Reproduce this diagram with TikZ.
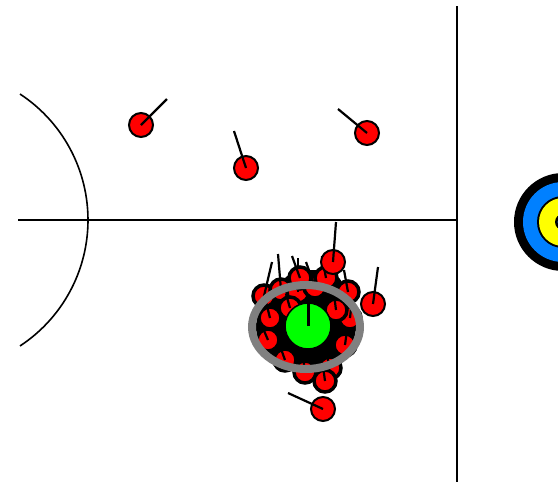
\documentclass[tikz,border=0pt]{standalone}
\usetikzlibrary{positioning}
\definecolor{hitred}{RGB}{255,0,0}
\definecolor{ringgray}{RGB}{128,128,128}
\definecolor{spotgreen}{RGB}{0,255,0}
\definecolor{targetblue}{RGB}{0,128,255}
\definecolor{targetyellow}{RGB}{255,255,0}
\tikzset{
  shot/.style={circle,draw=black,fill=hitred,line width=2pt,minimum size=24pt,inner sep=0pt},
  packedshot/.style={shot,line width=3.5pt,minimum size=22pt},
  tail/.style={black,line width=2.2pt},
  field/.style={black,line width=2pt}
}

\begin{document}
\begin{tikzpicture}[x=1pt,y=-1pt]
        \useasboundingbox (0,0) rectangle (558,482);
        \clip (0,0) rectangle (558,482);
        \draw[field] (18,220)--(458,220);
        \draw[field,line width=2.5pt] (457,6)--(457,482);
        \draw[field,line width=1.6pt] (-62.7,220) ++(-56.7:150.7)
          arc[start angle=-56.7,end angle=56.7,radius=150.7];
        \fill[black] (563,222) circle[radius=49];
        \fill[targetblue] (563,222) circle[radius=40];
        \fill[black] (563,222) circle[radius=26];
        \fill[targetyellow] (563,222) circle[radius=24];
        \fill[black] (563,222) circle[radius=8];
        \fill[targetblue] (563,222) circle[radius=5.5];
        \fill[black] (306,327) ellipse[x radius=50,y radius=40];
        \fill[black] (312,284) ellipse[x radius=30,y radius=14];
        \foreach \n/\x/\y/\tx/\ty in {
          1/264/296/272/262,
          2/281/290/278/254,
          3/298/292/298/258,
          4/315/287/306/262,
          5/348/292/344/270,
          6/350/318/352/300,
          7/345/345/347/330,
          8/330/368/326/352,
          9/305/372/303/356,
          10/285/360/280/346,
          11/268/340/262/326,
          12/270/318/266/302,
          13/325/381/323/366,
          14/300/278/292/256,
          15/326/278/322/256,
          16/290/308/286/294,
          17/336/310/334/294}{
          \node[packedshot] (c\n) at (\x,\y) {};
          \coordinate (ct\n) at (\tx,\ty);
          \draw[tail] (c\n.center) -- (ct\n);
        }
        \foreach \n/\x/\y/\tx/\ty in {
          1/141/125/167/99,
          2/246/168/234/131,
          3/367/133/338/109,
          4/323/409/288/393,
          5/373/304/378/267,
          6/333/262/336/222}{
          \node[shot] (s\n) at (\x,\y) {};
          \coordinate (st\n) at (\tx,\ty);
          \draw[tail] (s\n.center) -- (st\n);
        }
        \draw[ringgray,line width=8pt] (306,327) ellipse[x radius=54,y radius=42];
        \node[circle,draw=black,fill=spotgreen,line width=1.5pt,minimum size=46pt,inner sep=0pt] (gold) at (308,326) {};
        \draw[black,line width=3pt] (gold.center) -- (gold.north);
      \end{tikzpicture}
\end{document}
